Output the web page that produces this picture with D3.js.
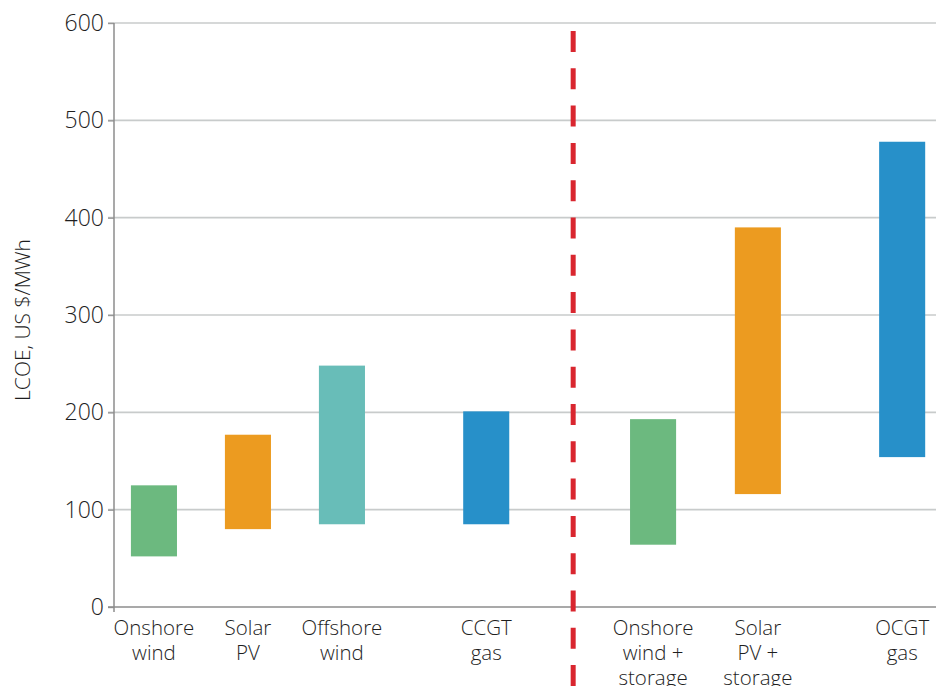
<!DOCTYPE html>
<html>
<head>
<meta charset="utf-8">
<script src="https://cdn.jsdelivr.net/npm/d3@7"></script>
<style>
  html, body { margin: 0; padding: 0; background: #fff; }
  svg { display: block; }
  text { font-family: "Open Sans", "Noto Sans", sans-serif; fill: #1e1e1e; font-weight: 300; }
</style>
</head>
<body>
<svg id="chart" width="936" height="686"></svg>
<script>
// ---- data ----
const categories = [
  ["Onshore", "wind"],
  ["Solar", "PV"],
  ["Offshore", "wind"],
  ["CCGT", "gas"],
  ["Onshore", "wind +", "storage"],
  ["Solar", "PV +", "storage"],
  ["OCGT", "gas"]
];
const slots = [0.85, 2.85, 4.85, 7.92, 11.47, 13.7, 16.77]; // category slot index along x
const lowValues  = [52, 80, 85, 85, 64, 116, 154];
const highValues = [125, 177, 248, 201, 193, 390, 478];
const barColors = ["#6cb97f", "#ec9b20", "#68bdb8", "#2790c9", "#6cb97f", "#ec9b20", "#2790c9"];
const yTicks = [0, 100, 200, 300, 400, 500, 600];
const dividerSlot = 9.77;
const yLabel = "LCOE, US $/MWh";

// ---- layout ----
const svg = d3.select("#chart");
const x = d3.scaleLinear().domain([0, 17.49]).range([114, 936]);
const y = d3.scaleLinear().domain([0, 600]).range([607, 23]);
const barW = x(0.98) - x(0);

// gridlines
svg.append("g")
  .selectAll("line")
  .data(yTicks.filter(d => d > 0))
  .join("line")
  .attr("x1", 108).attr("x2", 936)
  .attr("y1", d => y(d)).attr("y2", d => y(d))
  .attr("stroke", "#c8cbcb").attr("stroke-width", 1.6);

// y axis
const yAxis = d3.axisLeft(y).tickValues(yTicks).tickSize(6).tickPadding(4);
const gy = svg.append("g").attr("transform", "translate(114,0)").call(yAxis);
gy.select(".domain").remove();
gy.selectAll(".tick line").attr("stroke", "#999").attr("stroke-width", 1.4);
gy.selectAll(".tick text")
  .style("font-family", "'Open Sans', sans-serif")
  .style("font-weight", "300")
  .style("font-size", "23px").attr("fill", "#1e1e1e");
svg.append("line")
  .attr("x1", 114).attr("x2", 114).attr("y1", y(600)).attr("y2", 612)
  .attr("stroke", "#8c8c8c").attr("stroke-width", 1.5);

// x axis baseline
svg.append("line")
  .attr("x1", 108).attr("x2", 936).attr("y1", y(0)).attr("y2", y(0))
  .attr("stroke", "#8c8c8c").attr("stroke-width", 1.5);

// bars
svg.append("g")
  .selectAll("rect")
  .data(categories.map((c, i) => ({ i })))
  .join("rect")
  .attr("x", d => x(slots[d.i]) - barW / 2)
  .attr("width", barW)
  .attr("y", d => y(highValues[d.i]))
  .attr("height", d => y(lowValues[d.i]) - y(highValues[d.i]))
  .attr("fill", d => barColors[d.i]);

// category labels
const lab = svg.append("g")
  .selectAll("text")
  .data(categories.map((c, i) => ({ c, i })))
  .join("text")
  .attr("x", d => x(slots[d.i]))
  .attr("y", 635)
  .attr("text-anchor", "middle")
  .style("font-size", "20.5px");
lab.selectAll("tspan")
  .data(d => d.c.map((t, k) => ({ t, k, xx: x(slots[d.i]) })))
  .join("tspan")
  .attr("x", d => d.xx)
  .attr("dy", d => d.k === 0 ? 0 : 25)
  .text(d => d.t);

// divider
svg.append("line")
  .attr("x1", x(dividerSlot)).attr("x2", x(dividerSlot))
  .attr("y1", 31).attr("y2", 686)
  .attr("stroke", "#d9262f").attr("stroke-width", 5)
  .attr("stroke-dasharray", "21 16.3");

// y label
svg.append("text")
  .attr("transform", "translate(30,320) rotate(-90)")
  .attr("text-anchor", "middle")
  .style("font-size", "21px")
  .text(yLabel);
</script>
</body>
</html>
